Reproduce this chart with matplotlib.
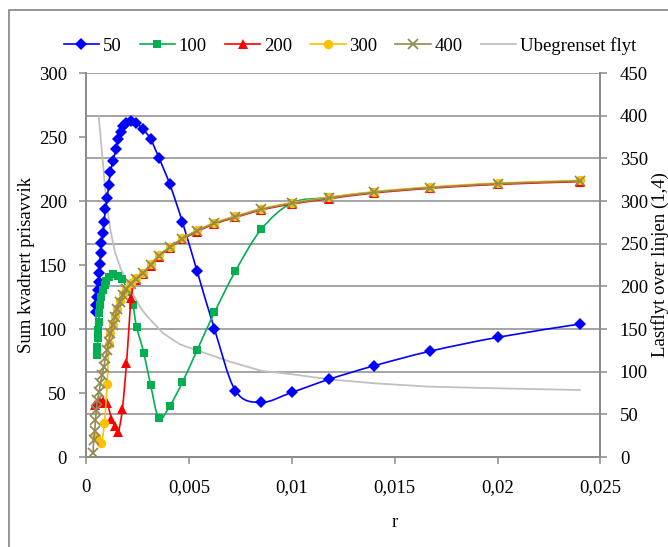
import numpy as np
import matplotlib
matplotlib.use('Agg')
import matplotlib.pyplot as plt
from matplotlib.path import Path
from matplotlib.patches import PathPatch, Rectangle
from matplotlib.lines import Line2D
from matplotlib.ticker import MultipleLocator, FuncFormatter

plt.rcParams['font.family'] = ['Liberation Serif', 'DejaVu Serif']
FS = 13.5

# values
r50 = [0.000453, 0.000487, 0.000521, 0.00057, 0.000599, 0.000619, 0.000648, 0.000697, 0.000731,
       0.000814, 0.000863, 0.000926, 0.00101, 0.00109, 0.00117, 0.0013, 0.00143, 0.00155, 0.00167,
       0.00179, 0.00195, 0.00216, 0.00241, 0.00276, 0.00312, 0.00353, 0.00406, 0.00467, 0.00538,
       0.00623, 0.00725, 0.00851, 0.01, 0.0118, 0.014, 0.0167, 0.02, 0.024]
s50 = [113.5, 118.75, 125.2, 130.5, 137, 143.5, 151, 159, 167, 174.8, 183.8, 193.5, 202.6, 212.5,
       222.9, 231.5, 240.4, 248.2, 254.1, 258.6, 261.2, 262.7, 261.2, 256, 248.4, 233.7, 212.9,
       183.6, 145.5, 100, 51.8, 42.7, 50.5, 60.7, 71.3, 82.6, 93.5, 103.9]

r100 = [0.000521, 0.000536, 0.000551, 0.00057, 0.000599, 0.000634, 0.000682, 0.000731, 0.000814,
        0.000892, 0.000975, 0.00111, 0.0013, 0.00155, 0.00175, 0.00203, 0.00226, 0.00244, 0.00279,
        0.00312, 0.00353, 0.00406, 0.00467, 0.00538, 0.00623, 0.00725, 0.00851, 0.01, 0.0118,
        0.014, 0.0167, 0.02, 0.024]
s100 = [79.7, 86.2, 92.7, 99.2, 105.7, 112.3, 118.75, 125.2, 130.5, 134.4, 137.7, 140.9, 142.7,
        141.6, 138.8, 129, 118.75, 101.8, 81.5, 56.5, 30.2, 40, 58.4, 83.3, 113, 145.3, 178,
        198.5, 202.8, 207, 210.5, 213.5, 215.6]

r200 = [0.000439, 0.00056, 0.000682, 0.000828, 0.00101, 0.00122, 0.00138, 0.00155, 0.00175,
        0.00195, 0.00218, 0.00241, 0.00276, 0.00312, 0.00353, 0.00406, 0.00467, 0.00538, 0.00623,
        0.00725, 0.00851, 0.01, 0.0118, 0.014, 0.0167, 0.02, 0.024]
s200 = [40.6, 42, 43.2, 43.5, 42, 30, 24, 19.8, 37.5, 73.2, 124, 138.5, 143, 149.5, 156.5, 163.3,
        170, 176.1, 182.1, 187.2, 193, 197.7, 201.8, 206.3, 209.9, 213, 215.1]

r300 = [0.000463, 0.000716, 0.000877, 0.00101, 0.00109, 0.00117, 0.00127, 0.00138, 0.0015,
        0.00162, 0.00179, 0.00195, 0.00216, 0.00241, 0.00276, 0.00312, 0.00353, 0.00406, 0.00467,
        0.00538, 0.00623, 0.00725, 0.00851, 0.01, 0.0118, 0.014, 0.0167, 0.02, 0.024]
s300 = [16, 10.7, 26.8, 57, 88, 96.5, 103.5, 110, 116, 121.8, 127, 131.5, 136, 139.5, 144, 150.5,
        157.5, 164.3, 171, 177.1, 183.1, 188.2, 194, 198.7, 202.8, 207.3, 210.9, 214, 216.1]

r400 = [0.000327, 0.000356, 0.000404, 0.000439, 0.000487, 0.000536, 0.000619, 0.000682, 0.000765,
        0.000843, 0.000926, 0.00101, 0.00109, 0.00117, 0.00127, 0.00138, 0.0015, 0.00162, 0.00179,
        0.00195, 0.00216, 0.00241, 0.00276, 0.00312, 0.00353, 0.00406, 0.00467, 0.00538, 0.00623,
        0.00725, 0.00851, 0.01, 0.0118, 0.014, 0.0167, 0.02, 0.024]
s400 = [3, 13, 20, 29, 37, 44.5, 51, 57.6, 64, 70.5, 77, 83.6, 90, 96.6, 103, 109.6, 115.4, 121.3,
        126.6, 131, 135.5, 139, 143.5, 150, 157, 163.8, 170.5, 176.6, 182.6, 187.7, 193.5, 198.2,
        202.3, 206.8, 210.4, 213.5, 215.6]

# unlimited flow, right axis
rFlow = [0.0006, 0.00069, 0.00079, 0.00095, 0.00115, 0.00139, 0.00168, 0.00212, 0.00266, 0.00295,
         0.00373, 0.00455, 0.00538, 0.00699, 0.00851, 0.01, 0.0118, 0.014, 0.0167, 0.02, 0.024]
flow = [399, 375, 348, 305, 268, 240, 220, 197, 174, 165, 145, 132, 125, 111.7, 101, 97, 91, 86.4,
        82.4, 80.5, 78.5]

labels = ['50', '100', '200', '300', '400']
xTicks = [0, 0.005, 0.01, 0.015, 0.02, 0.025]

GRAY = '#8C8C8C'


def smoothPath(x, y):
    # bezier through the points, like the smoothed lines in excel
    px = np.asarray(x, float)
    py = np.asarray(y, float)
    n = len(px)
    verts = [(px[0], py[0])]
    codes = [Path.MOVETO]
    for i in range(n - 1):
        i0 = max(i - 1, 0)
        i3 = min(i + 2, n - 1)
        c1 = (px[i] + (px[i + 1] - px[i0]) / 6, py[i] + (py[i + 1] - py[i0]) / 6)
        c2 = (px[i + 1] - (px[i3] - px[i]) / 6, py[i + 1] - (py[i3] - py[i]) / 6)
        verts += [c1, c2, (px[i + 1], py[i + 1])]
        codes += [Path.CURVE4] * 3
    return Path(verts, codes)


def drawSeries(ax, x, y, color, marker, ms, mew=0.0, z=3):
    ax.add_patch(PathPatch(smoothPath(x, y), fill=False, edgecolor=color, lw=1.2, zorder=z))
    if marker == 'x':
        ax.plot(x, y, linestyle='none', marker=marker, ms=ms, mew=mew, color=color, zorder=z + 0.5)
    else:
        ax.plot(x, y, linestyle='none', marker=marker, ms=ms, mec=color, mfc=color, mew=0,
                zorder=z + 0.5)


fig = plt.figure(figsize=(6.68, 5.47), dpi=100)
ax = fig.add_axes([86.4 / 668, 1 - 457 / 547, 514 / 668, 384 / 547])
ax2 = ax.twinx()
ax.set_zorder(ax2.get_zorder() + 1)
ax.patch.set_visible(False)

styles = [('#0000FF', 'D', 6.5, 0), ('#00B050', 's', 5.6, 0), ('#FF0000', '^', 6.8, 0),
          ('#FFC000', 'o', 6.8, 0), ('#948A54', 'x', 6.5, 1.3)]
series = [(r50, s50), (r100, s100), (r200, s200), (r300, s300), (r400, s400)]
for k, ((x, y), (c, m, ms, mew)) in enumerate(zip(series, styles)):
    drawSeries(ax, x, y, c, m, ms, mew, z=3 + k)

ax2.plot(rFlow, flow, color='#C0C0C0', lw=1.3, zorder=2)

ax.set_xlim(0, 0.025)
ax.set_ylim(0, 300)
ax2.set_ylim(0, 450)
ax.yaxis.set_major_locator(MultipleLocator(50))
ax2.yaxis.set_major_locator(MultipleLocator(50))
ax.set_xticks(xTicks)
ax.xaxis.set_major_formatter(FuncFormatter(lambda v, p: ('%g' % v).replace('.', ',')))

ax2.grid(axis='y', color=GRAY, lw=1.1)
ax2.set_axisbelow(True)

for a in (ax, ax2):
    a.spines['top'].set_visible(False)
    for s in ('left', 'right', 'bottom'):
        a.spines[s].set_color(GRAY)
        a.spines[s].set_linewidth(1.4)
    a.tick_params(colors=GRAY, labelcolor='black', labelsize=FS, length=5, width=1.1)

ax.tick_params(axis='y', pad=9)
ax2.tick_params(axis='y', pad=9)
ax.tick_params(axis='x', pad=11)

ax.set_xlabel('r', fontsize=FS)
ax.xaxis.set_label_coords(0.6, -0.148)
ax.set_ylabel('Sum kvadrert prisavvik', fontsize=FS)
ax.yaxis.set_label_coords(-0.100, 0.5)
ax2.set_ylabel('Lastflyt over linjen (1,4)', fontsize=FS, rotation=90)
ax2.yaxis.set_label_coords(1.099, 0.5)

handles = []
for (c, m, ms, mew), lab in zip(styles, labels):
    if m == 'x':
        handles.append(Line2D([], [], color=c, marker=m, ms=ms, mew=mew, lw=1.2, label=lab))
    else:
        handles.append(Line2D([], [], color=c, marker=m, ms=ms, mew=0, lw=1.2, label=lab))
handles.append(Line2D([], [], color='#C0C0C0', lw=1.3, label='Ubegrenset flyt'))
fig.legend(handles=handles, loc='center', bbox_to_anchor=(350 / 668, 1 - 46 / 547), ncol=6,
           frameon=False, fontsize=FS, handlelength=1.9, handletextpad=0.2, columnspacing=0.95)

# outer chart frame (only left and top edges are inside the picture)
fig.add_artist(Rectangle((8.5 / 668, -0.05), 1.1, 1.05 - 10 / 547, transform=fig.transFigure,
                         fill=False, edgecolor='#8C8C8C', lw=1.3))

fig.savefig('out.png', dpi=100)
